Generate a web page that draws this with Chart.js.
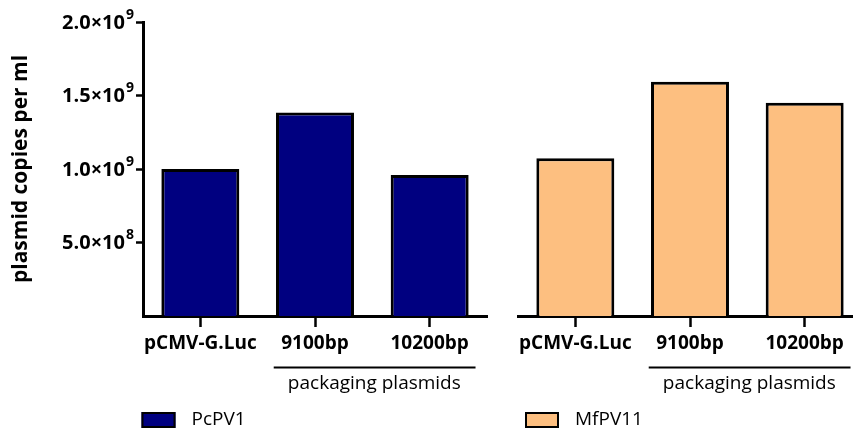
<!DOCTYPE html>
<html>
<head>
<meta charset="utf-8">
<script src="https://cdn.jsdelivr.net/npm/chart.js@4.4.1/dist/chart.umd.min.js"></script>
<style>
  html, body { margin: 0; padding: 0; background: #fff; overflow: hidden; }
  #wrap { position: relative; width: 853px; height: 430px; overflow: hidden; background: #fff; }
  #leftChart { position: absolute; left: 0; top: 0; }
  #rightChart { position: absolute; left: 500px; top: 0; }
</style>
</head>
<body>
<div id="wrap">
  <canvas id="leftChart" width="500" height="430"></canvas>
  <canvas id="rightChart" width="380" height="430"></canvas>
</div>
<script>
// Plasmid categories shown under each panel
const categories = ['pCMV-G.Luc', '9100bp', '10200bp'];
// Plasmid copies per ml for each virus
const pcpv1Values = [1.00e9, 1.385e9, 0.96e9];
const mfpv11Values = [1.073e9, 1.594e9, 1.451e9];
// Y axis ticks
const yTicks = [5e8, 1e9, 1.5e9, 2e9];
const yMax = 2e9;
// Series names and bracket caption
const seriesNames = ['PcPV1', 'MfPV11'];
const seriesColors = ['#000080', '#fdbf80'];
const groupCaption = 'packaging plasmids';
const yTitle = 'plasmid copies per ml';

const FONT = "'Open Sans', 'DejaVu Sans', sans-serif";

// Draws the bracket caption, the legend entry and (left panel) the
// scientific-notation y tick labels with raised exponents.
const extrasPlugin = {
  id: 'extras',
  afterDraw(chart, args, opts) {
    const ctx = chart.ctx;
    const xs = chart.scales.x;
    const area = chart.chartArea;
    const p1 = xs.getPixelForValue(1), p2 = xs.getPixelForValue(2);
    const w = p2 - p1;
    const mid = (p1 + p2) / 2;
    ctx.save();

    // bracket line over "packaging plasmids"
    const lineY = xs.top + 51.5;
    ctx.strokeStyle = '#000';
    ctx.lineWidth = 2;
    ctx.beginPath();
    ctx.moveTo(mid - 0.86 * w, lineY);
    ctx.lineTo(mid + 0.90 * w, lineY);
    ctx.stroke();

    ctx.fillStyle = '#000';
    ctx.font = `19px ${FONT}`;
    ctx.textAlign = 'center';
    ctx.textBaseline = 'middle';
    ctx.fillText(groupCaption, mid + 2, lineY + 16);

    // legend entry
    const ds = chart.data.datasets[0];
    const bx = area.left + opts.legendShift;
    const by = 412;
    ctx.fillStyle = ds.backgroundColor;
    ctx.fillRect(bx, by, 34, 16);
    ctx.strokeStyle = '#000';
    ctx.lineWidth = 2;
    ctx.strokeRect(bx + 1, by + 1, 32, 14);
    ctx.fillStyle = '#000';
    ctx.textAlign = 'left';
    ctx.font = `19px ${FONT}`;
    ctx.fillText(ds.label, bx + 50, by + 8);

    // y tick labels: mantissa x 10 with superscript exponent
    if (opts.yLabels) {
      const ys = chart.scales.y;
      const right = ys.right - 9;
      ys.ticks.forEach(t => {
        const v = t.value;
        if (v <= 0) return;
        const e = Math.floor(Math.log10(v) + 1e-9);
        const m = (v / Math.pow(10, e)).toFixed(1);
        const y = ys.getPixelForValue(v);
        ctx.font = `bold 14px ${FONT}`;
        const ew = ctx.measureText(String(e)).width;
        ctx.textAlign = 'right';
        ctx.fillText(String(e), right, y - 7);
        ctx.font = `bold 20px ${FONT}`;
        ctx.fillText(m + '\u00d710', right - ew - 1, y + 1);
      });
    }
    ctx.restore();
  }
};

function makeOptions(showY, padding, legendShift) {
  return {
    responsive: false,
    animation: false,
    layout: { padding },
    plugins: {
      legend: { display: false },
      tooltip: { enabled: false },
      extras: { legendShift, yLabels: showY }
    },
    scales: {
      x: {
        type: 'category',
        offset: true,
        grid: { display: true, offset: false, drawOnChartArea: false, drawTicks: true, tickLength: 11, tickWidth: 2.5, tickColor: '#000' },
        border: { display: true, color: '#000', width: 3 },
        ticks: { color: '#000', font: { family: FONT, size: 19, weight: 'bold' }, padding: 5, maxRotation: 0, autoSkip: false },
        afterFit: s => { s.height = 114; }
      },
      y: {
        display: showY,
        min: 0,
        max: yMax,
        afterBuildTicks: s => { s.ticks = yTicks.map(v => ({ value: v })); },
        grid: { display: true, drawOnChartArea: false, drawTicks: true, tickLength: 7, tickWidth: 2.5, tickColor: '#000' },
        border: { display: true, color: '#000', width: 3 },
        ticks: { display: false },
        title: { display: true, text: yTitle, color: '#000', font: { family: FONT, size: 21, weight: 'bold' }, padding: { top: 8, bottom: 0 } },
        afterFit: s => { s.width = showY ? 143 : 0; }
      }
    }
  };
}

function makeDataset(name, values, color) {
  return {
    label: name,
    data: values,
    backgroundColor: color,
    borderColor: '#000',
    borderWidth: 3,
    borderSkipped: 'start',
    barPercentage: 0.68,
    categoryPercentage: 1.0
  };
}

new Chart(document.getElementById('leftChart'), {
  type: 'bar',
  data: { labels: categories, datasets: [makeDataset(seriesNames[0], pcpv1Values, seriesColors[0])] },
  options: makeOptions(true, { left: 0, right: 13, top: 22, bottom: 0 }, -1.5),
  plugins: [extrasPlugin]
});

new Chart(document.getElementById('rightChart'), {
  type: 'bar',
  data: { labels: categories, datasets: [makeDataset(seriesNames[1], mfpv11Values, seriesColors[1])] },
  options: makeOptions(false, { left: 18, right: 18, top: 22, bottom: 0 }, 7),
  plugins: [extrasPlugin]
});
</script>
</body>
</html>
